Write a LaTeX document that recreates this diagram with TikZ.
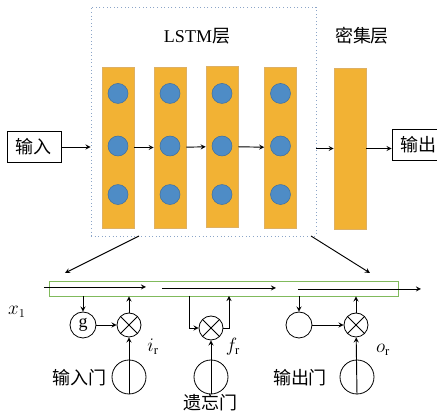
\documentclass[tikz,border=0pt]{standalone}
\usepackage{fontspec}
\setmainfont{Liberation Serif}
\newfontfamily\cjk{Noto Sans CJK SC}
\usepackage{tikz}
\usetikzlibrary{positioning, arrows}
\usepackage{xcolor}
\definecolor{barorange}{RGB}{242,178,52}
\definecolor{baredge}{RGB}{222,176,100}
\definecolor{cellblue}{RGB}{78,140,198}
\definecolor{celledge}{RGB}{62,112,162}
\definecolor{framegray}{RGB}{140,165,200}
\definecolor{stategreen}{RGB}{128,186,92}

\begin{document}
\begin{tikzpicture}[->,>=stealth,line width=0.7pt,x=0.75pt,y=-0.75pt,
    font=\fontsize{13.5pt}{16pt}\selectfont,
    box/.style={draw,rectangle,line width=0.6pt,minimum width=40.5pt,minimum height=23.25pt,inner sep=2pt},
    frame/.style={draw=framegray,dotted,line width=0.7pt,minimum width=168.75pt,minimum height=171.75pt},
    layer/.style={rectangle,fill=barorange,draw=baredge,line width=0.4pt,minimum width=24pt,minimum height=120.75pt},
    cell/.style={circle,fill=cellblue,draw=celledge,line width=0.4pt,minimum size=15pt,inner sep=0pt},
    cellstate/.style={draw=stategreen,rectangle,line width=0.6pt,minimum width=261.75pt,minimum height=11.25pt},
    gate/.style={draw,circle,line width=0.6pt,minimum size=19.5pt,inner sep=0pt},
    sig/.style={draw,circle,line width=0.6pt,minimum size=25.5pt,inner sep=0pt},
    mult/.style={draw,circle,line width=0.6pt,minimum size=18pt,inner sep=0pt,
      path picture={\draw[-] (path picture bounding box.north west) -- (path picture bounding box.south east)
                            (path picture bounding box.north east) -- (path picture bounding box.south west);}}]
      \clip (0,0) rectangle (437,416);

      % Input, LSTM frame and titles
      \node[box] (in) at (34,147) {\cjk 输入};
      \node[frame] (lstm) at (203.5,121.5) {};
      \node (lstmtxt) at (197,36) {LSTM{\cjk 层}};
      \node (densetxt) at (362,36) {\cjk 密集层};

      % LSTM layer 1
      \node[layer] (l1) at (118,147.5) {};
      \node[cell] (l1m) at (118,146) {};
      \node[cell, above=24pt of l1m] (l1t) {};
      \node[cell, below=21pt of l1m] (l1d) {};

      % LSTM layer 2
      \node[layer] (l2) at (170,147.5) {};
      \node[cell] (l2m) at (170,146) {};
      \node[cell, above=24pt of l2m] (l2t) {};
      \node[cell, below=21pt of l2m] (l2d) {};

      % LSTM layer 3
      \node[layer] (l3) at (222,146.5) {};
      \node[cell] (l3m) at (222,146) {};
      \node[cell, above=24pt of l3m] (l3t) {};
      \node[cell, below=21pt of l3m] (l3d) {};

      % LSTM layer 4
      \node[layer] (l4) at (280.5,147.5) {};
      \node[cell] (l4m) at (280.5,146) {};
      \node[cell, above=24pt of l4m] (l4t) {};
      \node[cell, below=21pt of l4m] (l4d) {};

      % Dense layer and output
      \node[layer] (dense) at (350,148.5) {};
      \node[box] (out) at (419,145) {\cjk 输出};

      % Forward path
      \path (in) edge (in -| lstm.west)
            (l1) edge (l2)
            (l2) edge (l3)
            (l3) edge (l4)
            (lstm.east |- dense) edge (dense)
            (dense) edge (out.west |- dense)
            ;

      % Zoom into one cell
      \coordinate (zl) at (139,236);
      \coordinate (zlend) at (65,273);
      \coordinate (zr) at (311,236);
      \coordinate (zrend) at (370,273);
      \draw (zl) -- (zlend);
      \draw (zr) -- (zrend);

      % Cell state
      \node[cellstate] (cs) at (223.5,288.5) {};
      \coordinate (c1a) at (44,287);
      \coordinate (c1b) at (146,287);
      \coordinate (c2a) at (162,288);
      \coordinate (c2b) at (276,288);
      \coordinate (c3a) at (298,289);
      \coordinate (c3b) at (421,289);
      \draw (c1a) -- (c1b);
      \draw (c2a) -- (c2b);
      \draw (c3a) -- (c3b);
      \node (x1) at (17,312) {$x_{1}$};

      % Input gate
      \node[gate] (g) at (83,325) {g};
      \node[mult] (m1) at (129,325) {};
      \node[sig] (s1) at (129,377) {};
      \node (ir) at (153,347) {$i_{\mathrm{r}}$};
      \node (ingate) at (80,378) {\cjk 输入门};
      \path (cs.south -| g) edge (g)
            (g) edge (m1)
            (m1) edge (cs.south -| m1)
            (s1.south) edge (m1)
            ;

      % Forget gate
      \node[mult] (m2) at (211,328) {};
      \node[sig] (s2) at (211,377) {};
      \node (fr) at (233,347) {$f_{\mathrm{r}}$};
      \node (fgate) at (211,403) {\cjk 遗忘门};
      \coordinate (fin) at (189,296);
      \coordinate (fout) at (229,296);
      \draw (fin) |- (m2);
      \draw (m2.east) -| (fout);
      \draw (s2.south) -- (m2);

      % Output gate
      \node[gate] (h) at (299,325) {};
      \node[mult] (m3) at (356,325) {};
      \node[sig] (s3) at (357,377) {};
      \node (or) at (383,350) {$o_{\mathrm{r}}$};
      \node (outgate) at (300,378) {\cjk 输出门};
      \path (cs.south -| h) edge (h)
            (h) edge (m3)
            (m3) edge (cs.south -| m3)
            (s3.south) edge (m3)
            ;
    \end{tikzpicture}
\end{document}
